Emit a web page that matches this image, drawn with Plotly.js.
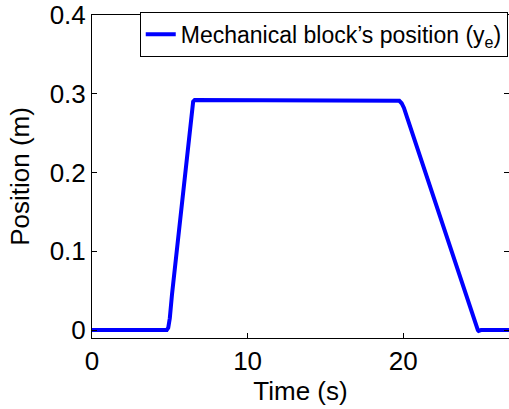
<!DOCTYPE html>
<html>
<head>
<meta charset="utf-8">
<script src="https://cdn.plot.ly/plotly-3.0.1.min.js"></script>
<style>html,body{margin:0;padding:0;background:#fff;}#chart{width:509px;height:409px;}</style>
</head>
<body>
<div id="chart"></div>
<script>
// Time (s)
const timeS = [0, 4.8, 4.9, 5.0, 5.14, 5.5, 6.0, 6.3, 6.4, 6.5, 6.6, 19.6, 19.75, 19.9, 20.05, 20.25, 20.6, 21.0, 22.0, 23.0, 24.0, 24.5, 24.7, 24.8, 24.85, 25.0, 26.8];
// Mechanical block's position (m)
const positionM = [0, 0, 0.003, 0.015, 0.045, 0.11, 0.2, 0.258, 0.278, 0.29, 0.292, 0.292, 0.291, 0.288, 0.282, 0.27, 0.249, 0.226, 0.167, 0.108, 0.049, 0.019, 0.007, 0.0, -0.001, 0, 0];
const seriesName = "Mechanical block’s position (y<sub>e</sub>)";
const xTicks = [0, 10, 20];
const yTicks = [0, 0.1, 0.2, 0.3, 0.4];
const yTickText = ["0", "0.1", "0.2", "0.3", "0.4"];

const font = "Liberation Sans, Arial, Helvetica, sans-serif";
const trace = {
  x: timeS, y: positionM, type: "scatter", mode: "lines",
  name: seriesName, line: {color: "#0000ff", width: 4}
};
const axisCommon = {
  showline: true, linecolor: "#000", linewidth: 1, mirror: "ticks",
  ticks: "inside", ticklen: 5, tickcolor: "#000", tickwidth: 1,
  showgrid: false, zeroline: false,
  tickfont: {family: font, size: 26, color: "#000"}
};
const layout = {
  width: 509, height: 409,
  margin: {l: 92, r: 0, t: 15, b: 71, pad: 0},
  paper_bgcolor: "#fff", plot_bgcolor: "#fff",
  showlegend: true,
  legend: {
    x: 0.997, y: 1.01, xanchor: "right", yanchor: "top",
    bgcolor: "#fff", bordercolor: "#000", borderwidth: 1,
    font: {family: font, size: 23, color: "#000"},
    itemwidth: 30
  },
  xaxis: Object.assign({}, axisCommon, {
    range: [0, 26.8], tickvals: xTicks, ticktext: xTicks.map(String),
    title: {text: "Time (s)", font: {family: font, size: 26, color: "#000"}, standoff: 6}
  }),
  yaxis: Object.assign({}, axisCommon, {
    range: [-0.01, 0.4], tickvals: yTicks, ticktext: yTickText,
    title: {text: "Position (m)", font: {family: font, size: 26, color: "#000"}, standoff: 12}
  })
};
Plotly.newPlot("chart", [trace], layout, {staticPlot: true, displayModeBar: false});
</script>
</body>
</html>
